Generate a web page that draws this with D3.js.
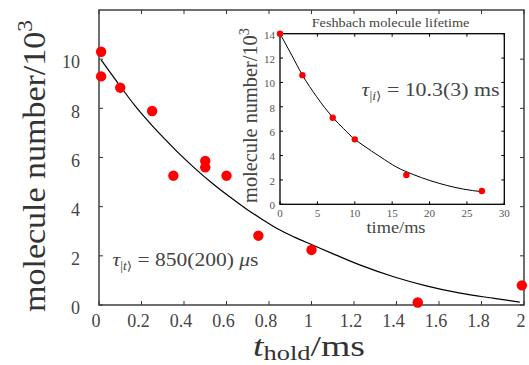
<!DOCTYPE html>
<html>
<head>
<meta charset="utf-8">
<script src="https://cdn.jsdelivr.net/npm/d3@7"></script>
<style>
  html, body { margin: 0; padding: 0; background: #fff; }
  svg { display: block; }
  svg text { font-family: "Liberation Serif", "DejaVu Serif", serif; }
</style>
</head>
<body>
<div id="chart"></div>
<script>
// main panel: molecule number vs hold time
const holdTimes  = [0.01, 0.01, 0.10, 0.25, 0.35, 0.50, 0.50, 0.60, 0.75, 1.00, 1.50, 1.99];
const holdCounts = [10.3, 9.3, 8.84, 7.89, 5.26, 5.86, 5.60, 5.26, 2.82, 2.24, 0.10, 0.80];
// fitted decay curve
const fitTimes  = [0.01, 0.10, 0.17, 0.25, 0.30, 0.37, 0.45, 0.53, 0.61, 0.69, 0.77, 0.84, 0.92, 1.00, 1.11, 1.23, 1.39, 1.54, 1.70, 1.86, 1.98];
const fitCounts = [9.97, 8.90, 8.10, 7.30, 6.84, 6.22, 5.57, 4.97, 4.43, 3.93, 3.47, 3.10, 2.76, 2.46, 2.05, 1.62, 1.14, 0.78, 0.48, 0.27, 0.12];
const holdTicksX = [0, 0.2, 0.4, 0.6, 0.8, 1, 1.2, 1.4, 1.6, 1.8, 2];
const holdTicksY = [0, 2, 4, 6, 8, 10];

// inset: Feshbach molecule lifetime
const lifeTimes  = [0, 3.0, 7.05, 10.0, 16.9, 27.0];
const lifeCounts = [14.0, 10.6, 7.1, 5.33, 2.4, 1.09];
const lifeFitTimes  = [0, 1.56, 3.0, 4.9, 7.1, 8.47, 10.0, 11.1, 13.4, 15.6, 17.8, 20.05, 22.3, 24.5, 27.0];
const lifeFitCounts = [14.0, 12.25, 10.6, 8.83, 7.1, 6.23, 5.33, 4.85, 3.9, 3.05, 2.45, 1.95, 1.55, 1.25, 1.03];
const lifeTicksX = [0, 5, 10, 15, 20, 25, 30];
const lifeTicksY = [0, 2, 4, 6, 8, 10, 12, 14];

const W = 529, H = 365;
const FONT = '"Liberation Serif", "DejaVu Serif", serif';
const GREY = '#444';

const svg = d3.select('#chart').append('svg')
  .attr('width', W).attr('height', H)
  .attr('font-family', FONT);

// squeeze/stretch a text element horizontally to a target width
function fit(text, target) {
  const w = text.node().getComputedTextLength();
  if (w > 0) text.attr('transform', `scale(${target / w},1)`);
}

function frame(g, x, y, ticksX, ticksY, tickLen, stroke, sw) {
  const [x0, x1] = x.range();
  const [y0, y1] = y.range();
  g.append('rect')
    .attr('x', x0).attr('y', y1)
    .attr('width', x1 - x0).attr('height', y0 - y1)
    .attr('fill', 'none').attr('stroke', stroke).attr('stroke-width', sw);
  const t = g.append('g').attr('stroke', stroke).attr('stroke-width', 1);
  ticksX.forEach((v) => {
    t.append('line').attr('x1', x(v)).attr('x2', x(v)).attr('y1', y0).attr('y2', y0 - tickLen);
    t.append('line').attr('x1', x(v)).attr('x2', x(v)).attr('y1', y1).attr('y2', y1 + tickLen);
  });
  ticksY.forEach((v) => {
    t.append('line').attr('y1', y(v)).attr('y2', y(v)).attr('x1', x0).attr('x2', x0 + tickLen);
    t.append('line').attr('y1', y(v)).attr('y2', y(v)).attr('x1', x1).attr('x2', x1 - tickLen);
  });
}

// ---------------------------------------------------------------- main panel
const x = d3.scaleLinear().domain([0, 2]).range([99, 524]);
const y = d3.scaleLinear().domain([0, 12]).range([305, 10]);

const main = svg.append('g');

main.append('path')
  .datum(d3.zip(fitTimes, fitCounts))
  .attr('fill', 'none').attr('stroke', '#000').attr('stroke-width', 1.2)
  .attr('d', d3.line().curve(d3.curveMonotoneX).x((d) => x(d[0])).y((d) => y(d[1])));

frame(main, x, y, holdTicksX, holdTicksY, 4, '#333', 1.4);

main.selectAll('circle.pt')
  .data(d3.zip(holdTimes, holdCounts))
  .join('circle')
  .attr('class', 'pt')
  .attr('cx', (d) => x(d[0])).attr('cy', (d) => y(d[1]))
  .attr('r', 5.2).attr('fill', '#ff0000');

main.selectAll('text.xt')
  .data(holdTicksX)
  .join('text')
  .attr('class', 'xt')
  .attr('x', (d) => x(d) - 3).attr('y', 327)
  .attr('text-anchor', 'middle')
  .attr('fill', GREY).style('font-size', '18px')
  .text((d) => d);

main.selectAll('text.yt')
  .data(holdTicksY)
  .join('text')
  .attr('class', 'yt')
  .attr('x', 80).attr('y', (d) => y(d) + 3)
  .attr('dy', '0.35em')
  .attr('text-anchor', 'end')
  .attr('fill', GREY).style('font-size', '18px')
  .text((d) => d);

// y label
{
  const g = main.append('g').attr('transform', 'translate(45,166) rotate(-90)');
  const t = g.append('text').attr('text-anchor', 'middle')
    .attr('fill', '#333').style('font-size', '32px');
  t.append('tspan').text('molecule number/10');
  t.append('tspan').attr('dy', -13).style('font-size', '22px').text('3');
  fit(t, 292);
}

// x label
{
  const g = main.append('g').attr('transform', 'translate(309,356)');
  const t = g.append('text').attr('text-anchor', 'middle')
    .attr('fill', '#333').style('font-size', '30px');
  t.append('tspan').style('font-style', 'italic').text('t');
  t.append('tspan').attr('dy', 4).style('font-size', '21px').text('hold');
  t.append('tspan').attr('dy', -4).text('/ms');
  fit(t, 112);
}

// lifetime annotation
{
  const g = main.append('g').attr('transform', 'translate(185.5,265.5)');
  const t = g.append('text').attr('text-anchor', 'middle')
    .attr('fill', GREY).style('font-size', '19px');
  t.append('tspan').style('font-style', 'italic').text('τ');
  const s = t.append('tspan').attr('dy', 4).style('font-size', '12px');
  s.append('tspan').text('|');
  s.append('tspan').style('font-style', 'italic').text('t');
  s.append('tspan').text('⟩');
  t.append('tspan').attr('dy', -4).text(' = 850(200) ');
  t.append('tspan').style('font-style', 'italic').text('μ');
  t.append('tspan').text('s');
  fit(t, 146);
}

// ---------------------------------------------------------------- inset
const ix = d3.scaleLinear().domain([0, 30]).range([280, 504.3]);
const iy = d3.scaleLinear().domain([0, 14]).range([204.3, 33.7]);

const inset = svg.append('g');

inset.append('rect')
  .attr('x', 280).attr('y', 33.7)
  .attr('width', ix(30) - ix(0)).attr('height', iy(0) - iy(14))
  .attr('fill', '#fff');

inset.append('path')
  .datum(d3.zip(lifeFitTimes, lifeFitCounts))
  .attr('fill', 'none').attr('stroke', '#000').attr('stroke-width', 1)
  .attr('d', d3.line().curve(d3.curveMonotoneX).x((d) => ix(d[0])).y((d) => iy(d[1])));

frame(inset, ix, iy, lifeTicksX, lifeTicksY, 3, '#000', 1.3);

inset.selectAll('circle.pt')
  .data(d3.zip(lifeTimes, lifeCounts))
  .join('circle')
  .attr('class', 'pt')
  .attr('cx', (d) => ix(d[0])).attr('cy', (d) => iy(d[1]))
  .attr('r', 3.2).attr('fill', '#ff0000');

inset.selectAll('text.xt')
  .data(lifeTicksX)
  .join('text')
  .attr('class', 'xt')
  .attr('x', (d) => ix(d)).attr('y', 217)
  .attr('text-anchor', 'middle')
  .attr('fill', '#555').style('font-size', '11px')
  .text((d) => d);

inset.selectAll('text.yt')
  .data(lifeTicksY)
  .join('text')
  .attr('class', 'yt')
  .attr('x', 275).attr('y', (d) => iy(d) + 1)
  .attr('dy', '0.35em')
  .attr('text-anchor', 'end')
  .attr('fill', '#555').style('font-size', '11px')
  .text((d) => d);

{
  const t = inset.append('g').attr('transform', 'translate(390.5,27)')
    .append('text').attr('text-anchor', 'middle')
    .attr('fill', GREY).style('font-size', '12.5px')
    .text('Feshbach molecule lifetime');
  fit(t, 158);
}

{
  const g = inset.append('g').attr('transform', 'translate(257,115.5) rotate(-90)');
  const t = g.append('text').attr('text-anchor', 'middle')
    .attr('fill', GREY).style('font-size', '20px');
  t.append('tspan').text('molecule number/10');
  t.append('tspan').attr('dy', -8).style('font-size', '14px').text('3');
  fit(t, 175);
}

{
  const t = inset.append('g').attr('transform', 'translate(396,233)')
    .append('text').attr('text-anchor', 'middle')
    .attr('fill', GREY).style('font-size', '16px')
    .text('time/ms');
  fit(t, 59);
}

{
  const g = inset.append('g').attr('transform', 'translate(430.5,96)');
  const t = g.append('text').attr('text-anchor', 'middle')
    .attr('fill', GREY).style('font-size', '19px');
  t.append('tspan').style('font-style', 'italic').text('τ');
  const s = t.append('tspan').attr('dy', 4).style('font-size', '12px');
  s.append('tspan').text('|');
  s.append('tspan').style('font-style', 'italic').text('i');
  s.append('tspan').text('⟩');
  t.append('tspan').attr('dy', -4).text(' = 10.3(3) ms');
  fit(t, 138);
}
</script>
</body>
</html>
